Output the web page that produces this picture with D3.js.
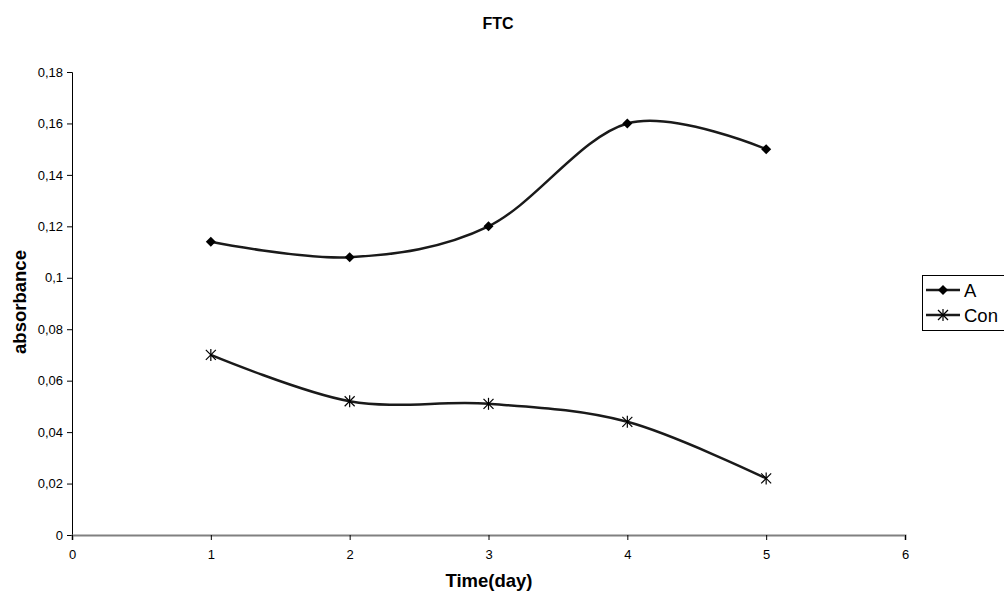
<!DOCTYPE html>
<html>
<head>
<script src="https://cdnjs.cloudflare.com/ajax/libs/d3/7.8.5/d3.min.js"></script>
<style>
  body { margin: 0; background: #fff; }
  text { font-family: "Liberation Sans", Arial, sans-serif; }
</style>
</head>
<body>
<div id="plot"></div>
<script>
var days = [1, 2, 3, 4, 5];
var seriesA = [0.114, 0.108, 0.12, 0.16, 0.15];
var seriesCon = [0.07, 0.052, 0.051, 0.044, 0.022];
var xTicks = [0, 1, 2, 3, 4, 5, 6];
var yTicks = [0, 0.02, 0.04, 0.06, 0.08, 0.1, 0.12, 0.14, 0.16, 0.18];

var W = 1004, H = 594;
var plotL = 72, plotR = 905, plotT = 72, plotB = 535;

var svg = d3.select('#plot').append('svg')
  .attr('width', W).attr('height', H);

var x = d3.scaleLinear().domain([0, 6]).range([plotL, plotR]);
var y = d3.scaleLinear().domain([0, 0.18]).range([plotB, plotT]);

var fmt = function(d) { return d === 0 ? '0' : String(d).replace('.', ','); };

// y axis
var yg = svg.append('g')
  .attr('transform', 'translate(' + plotL + ',0)')
  .call(d3.axisLeft(y).tickValues(yTicks).tickSize(5).tickPadding(4).tickFormat(fmt));
yg.select('.domain').attr('stroke', '#000');
yg.selectAll('.tick line').attr('stroke', '#000');
yg.selectAll('text').style('font-size', '13px').attr('fill', '#000');

// x axis
var xg = svg.append('g')
  .attr('transform', 'translate(0,' + plotB + ')')
  .call(d3.axisBottom(x).tickValues(xTicks).tickSize(5).tickPadding(10).tickFormat(d3.format('d')));
xg.select('.domain').attr('stroke', '#808080').attr('stroke-width', 2);
xg.selectAll('.tick line').attr('stroke', '#000');
xg.selectAll('text').style('font-size', '13px').attr('fill', '#000');

// titles
svg.append('text').attr('x', 498).attr('y', 28.5)
  .attr('text-anchor', 'middle').style('font-size', '16px').attr('font-weight', 'bold')
  .text('FTC');
svg.append('text').attr('x', 489).attr('y', 586.5)
  .attr('text-anchor', 'middle').style('font-size', '18.5px').attr('font-weight', 'bold')
  .text('Time(day)');
svg.append('text')
  .attr('transform', 'translate(26,302) rotate(-90)')
  .attr('text-anchor', 'middle').style('font-size', '18.5px').attr('font-weight', 'bold')
  .text('absorbance');

var line = d3.line()
  .x(function(d, i) { return x(days[i]); })
  .y(function(d) { return y(d); })
  .curve(d3.curveCardinal.tension(0));

var strokeCol = '#1a1a1a';

function drawMarker(type, cx, cy) {
  if (type === 'diamond') {
    svg.append('path')
      .attr('d', 'M' + cx + ',' + (cy - 5) + 'L' + (cx + 5) + ',' + cy + 'L' + cx + ',' + (cy + 5) + 'L' + (cx - 5) + ',' + cy + 'Z')
      .attr('fill', '#000');
  } else {
    var r = 5;
    var g = svg.append('g').attr('stroke', '#000').attr('stroke-width', 1.2);
    g.append('line').attr('x1', cx - r).attr('x2', cx + r).attr('y1', cy - r).attr('y2', cy + r);
    g.append('line').attr('x1', cx - r).attr('x2', cx + r).attr('y1', cy + r).attr('y2', cy - r);
    g.append('line').attr('x1', cx).attr('x2', cx).attr('y1', cy - r - 1).attr('y2', cy + r + 1);
  }
}

function drawSeries(vals, marker) {
  svg.append('path')
    .attr('d', line(vals))
    .attr('fill', 'none').attr('stroke', strokeCol).attr('stroke-width', 2.5);
  vals.forEach(function(v, i) {
    drawMarker(marker, x(days[i]), y(v));
  });
}

drawSeries(seriesA, 'diamond');
drawSeries(seriesCon, 'star');

// legend
var legendItems = [{ name: 'A', marker: 'diamond' }, { name: 'Con', marker: 'star' }];
svg.append('rect').attr('x', 922.5).attr('y', 275.5).attr('width', 90).attr('height', 55)
  .attr('fill', '#fff').attr('stroke', '#000').attr('stroke-width', 1);
legendItems.forEach(function(d, i) {
  var ly = 290 + i * 25;
  svg.append('line').attr('x1', 926).attr('x2', 960).attr('y1', ly).attr('y2', ly)
    .attr('stroke', strokeCol).attr('stroke-width', 2.5);
  drawMarker(d.marker, 943, ly);
  svg.append('text').attr('x', 964).attr('y', ly + 7).style('font-size', '18.5px').text(d.name);
});
</script>
</body>
</html>
